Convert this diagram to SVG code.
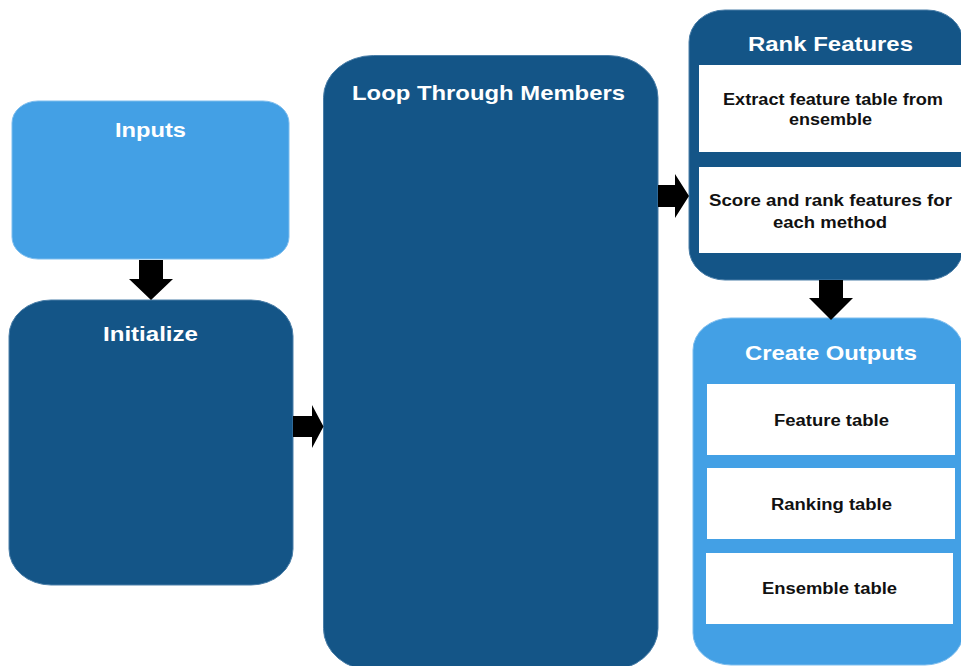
<svg xmlns="http://www.w3.org/2000/svg" width="961" height="666" viewBox="0 0 961 666">
<style>
.dark{fill:#145587;stroke:#4a7ea8;stroke-width:1}
.light{fill:#43a0e5;stroke:#7dbdee;stroke-width:1}
.cell{fill:#ffffff}
.title{font-family:"Liberation Sans",Arial,sans-serif;font-weight:bold;font-size:21px;fill:#ffffff;text-anchor:middle}
.label{font-family:"Liberation Sans",Arial,sans-serif;font-weight:bold;font-size:16px;fill:#111111;text-anchor:middle}
.arrow{fill:#000000}
</style>
<rect width="961" height="666" fill="#ffffff"/>
<g id="inputs">
<rect class="light" x="12" y="101" width="277" height="158" rx="26" ry="22"/>
<text class="title" x="150.5" y="136.5" textLength="71" lengthAdjust="spacingAndGlyphs">Inputs</text>
</g>
<g id="initialize">
<rect class="dark" x="9" y="300" width="284" height="285" rx="42" ry="36"/>
<text class="title" x="150.5" y="341" textLength="95" lengthAdjust="spacingAndGlyphs">Initialize</text>
</g>
<g id="loop">
<rect class="dark" x="323.5" y="55.5" width="334.5" height="615" rx="50" ry="42"/>
<text class="title" x="488.5" y="99.5" textLength="273" lengthAdjust="spacingAndGlyphs">Loop Through Members</text>
</g>
<g id="rank">
<rect class="dark" x="689" y="10" width="274" height="270" rx="36" ry="32"/>
<text class="title" x="830.5" y="50.5" textLength="165" lengthAdjust="spacingAndGlyphs">Rank Features</text>
<rect class="cell" x="699" y="65" width="264" height="87"/>
<text class="label" x="833" y="104.5" textLength="220" lengthAdjust="spacingAndGlyphs">Extract feature table from</text>
<text class="label" x="830.5" y="125" textLength="83" lengthAdjust="spacingAndGlyphs">ensemble</text>
<rect class="cell" x="699" y="167" width="264" height="86"/>
<text class="label" x="830.5" y="205.5" textLength="243" lengthAdjust="spacingAndGlyphs">Score and rank features for</text>
<text class="label" x="830" y="228" textLength="114" lengthAdjust="spacingAndGlyphs">each method</text>
</g>
<g id="outputs">
<rect class="light" x="693" y="318" width="270" height="347" rx="38" ry="32"/>
<text class="title" x="831" y="359.5" textLength="172" lengthAdjust="spacingAndGlyphs">Create Outputs</text>
<rect class="cell" x="707" y="384" width="248" height="71"/>
<text class="label" x="831.5" y="425.5" textLength="115" lengthAdjust="spacingAndGlyphs">Feature table</text>
<rect class="cell" x="707" y="468" width="248" height="71"/>
<text class="label" x="831.5" y="509.5" textLength="121" lengthAdjust="spacingAndGlyphs">Ranking table</text>
<rect class="cell" x="706" y="553" width="247" height="71"/>
<text class="label" x="829.5" y="594" textLength="135" lengthAdjust="spacingAndGlyphs">Ensemble table</text>
</g>
<g id="connectors">
<polygon class="arrow" points="139,260 163,260 163,279 173,279 151,300 129,279 139,279"/>
<polygon class="arrow" points="293,416 312,416 312,405 323.5,426.5 312,448 312,437 293,437"/>
<polygon class="arrow" points="658,185 675,185 675,174 689,196 675,218 675,207 658,207"/>
<polygon class="arrow" points="819,280 843,280 843,298 853,298 831,320 809,298 819,298"/>
</g>
</svg>
